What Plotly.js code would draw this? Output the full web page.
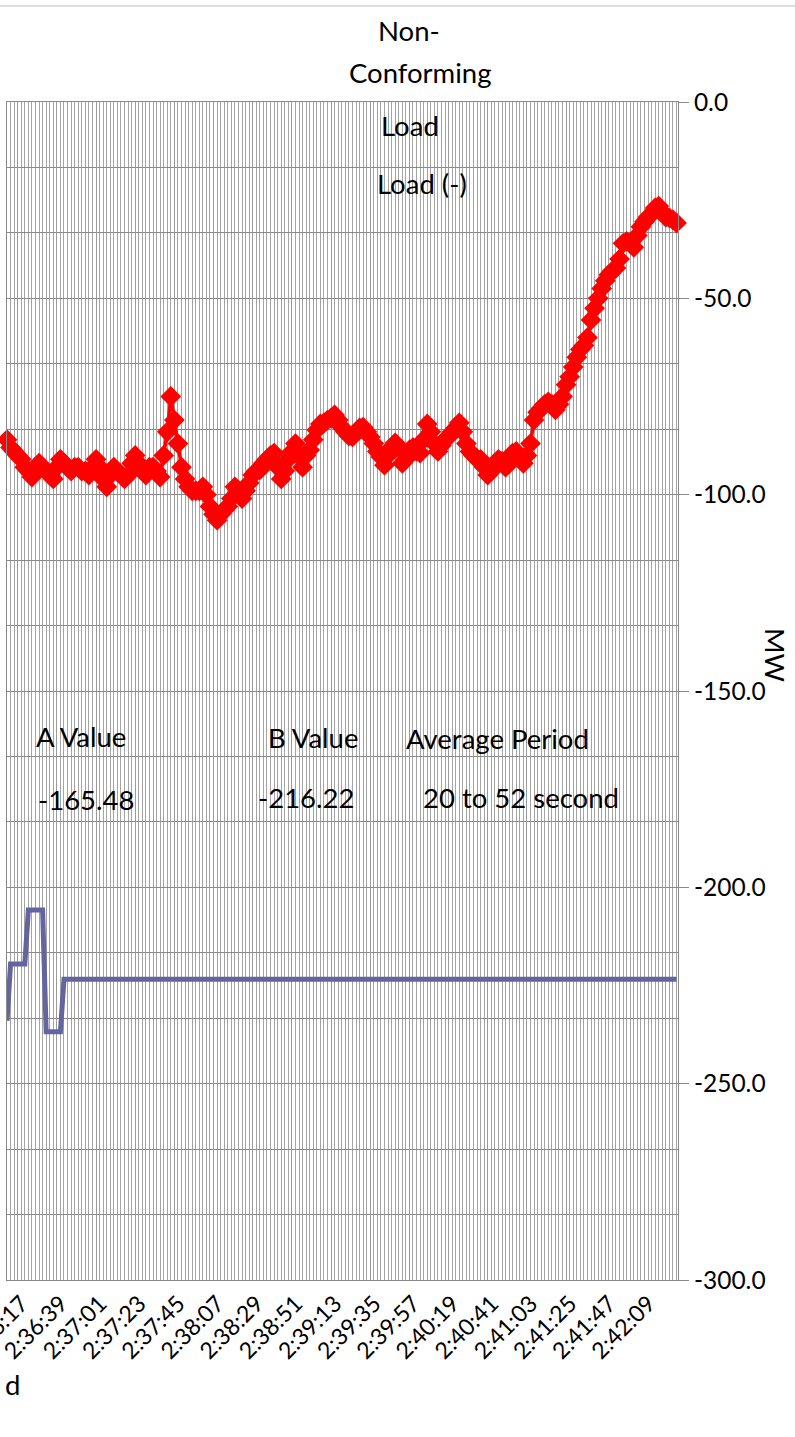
<!DOCTYPE html>
<html>
<head>
<meta charset="utf-8">
<script src="https://cdn.plot.ly/plotly-3.0.1.min.js"></script>
<style>html,body{margin:0;padding:0;background:#fff;}#chart{width:795px;height:1437px;}</style>
</head>
<body>
<div id="chart"></div>
<script>
// Load (-) series, MW, one sample every 2 s starting at 2:36:11
const loadValues = [
 -86,-88,-89,-90,-91,-93,-94,-95.5,-93,-92,
 -93,-94,-95,-96,-93,-91,-92,-93,-94,-93,
 -93,-94,-94,-95,-93,-91,-93,-96,-98,-95,
 -93,-94,-95,-96,-95,-92,-90,-92,-94,-95,
 -93,-93,-94,-95.5,-90,-84,-75,-81,-87,-93,
 -96,-98,-99,-99,-99,-98,-100,-103,-105,-106.5,
 -105,-104,-103,-101,-98,-99,-101,-99,-97,-95,
 -94,-93.7,-92,-91,-90,-89.4,-93,-96,-94,-91,
 -89,-87,-90,-93,-90,-88.6,-86,-83.5,-82,-81.7,
 -81,-80.5,-79.7,-81,-82.8,-84,-85,-85.3,-84,-83,
 -82.8,-84,-85.3,-87,-89,-90.4,-92.5,-90,-88,-86.8,
 -88,-92,-91,-88.6,-88,-89,-89.4,-86,-82,-84,
 -87,-89,-87.5,-86,-85.3,-84,-83,-81.7,-84,-87,
 -89,-90,-91,-91,-93,-95,-94,-92,-91,-91.5,
 -93,-92,-89.4,-89,-91,-92,-90,-87,-81,-79,
 -78,-77,-76.4,-77,-78.4,-77,-75,-72,-70,-67.5,
 -65,-63,-62,-60,-55.5,-52.5,-50,-47.5,-45.5,-44,
 -43,-42.3,-40,-36,-35.5,-36,-37,-34,-31.8,-30.5,
 -29.3,-28.5,-27,-26.5,-28,-29.3,-29.5,-30,-30.8
];
// Second (average) series, MW
const avgValues = [
 -234,-219.5,-219.5,-219.5,-219.5,-219.5,-205.8,-205.8,-205.8,-205.8,
 -205.8,-236.8,-236.8,-236.8,-236.8,-236.8,-223.4,-223.4,-223.4,-223.4,
 -223.4,-223.4,-223.4,-223.4,-223.4,-223.4,-223.4,-223.4,-223.4,-223.4,
 -223.4,-223.4,-223.4,-223.4,-223.4,-223.4,-223.4,-223.4,-223.4,-223.4,
 -223.4,-223.4,-223.4,-223.4,-223.4,-223.4,-223.4,-223.4,-223.4,-223.4,
 -223.4,-223.4,-223.4,-223.4,-223.4,-223.4,-223.4,-223.4,-223.4,-223.4,
 -223.4,-223.4,-223.4,-223.4,-223.4,-223.4,-223.4,-223.4,-223.4,-223.4,
 -223.4,-223.4,-223.4,-223.4,-223.4,-223.4,-223.4,-223.4,-223.4,-223.4,
 -223.4,-223.4,-223.4,-223.4,-223.4,-223.4,-223.4,-223.4,-223.4,-223.4,
 -223.4,-223.4,-223.4,-223.4,-223.4,-223.4,-223.4,-223.4,-223.4,-223.4,
 -223.4,-223.4,-223.4,-223.4,-223.4,-223.4,-223.4,-223.4,-223.4,-223.4,
 -223.4,-223.4,-223.4,-223.4,-223.4,-223.4,-223.4,-223.4,-223.4,-223.4,
 -223.4,-223.4,-223.4,-223.4,-223.4,-223.4,-223.4,-223.4,-223.4,-223.4,
 -223.4,-223.4,-223.4,-223.4,-223.4,-223.4,-223.4,-223.4,-223.4,-223.4,
 -223.4,-223.4,-223.4,-223.4,-223.4,-223.4,-223.4,-223.4,-223.4,-223.4,
 -223.4,-223.4,-223.4,-223.4,-223.4,-223.4,-223.4,-223.4,-223.4,-223.4,
 -223.4,-223.4,-223.4,-223.4,-223.4,-223.4,-223.4,-223.4,-223.4,-223.4,
 -223.4,-223.4,-223.4,-223.4,-223.4,-223.4,-223.4,-223.4,-223.4,-223.4,
 -223.4,-223.4,-223.4,-223.4,-223.4,-223.4,-223.4,-223.4,-223.4
];
// x tick labels (every 11th sample)
const timeTickLabels = ['2:36:17','2:36:39','2:37:01','2:37:23','2:37:45','2:38:07','2:38:29','2:38:51',
 '2:39:13','2:39:35','2:39:57','2:40:19','2:40:41','2:41:03','2:41:25','2:41:47','2:42:09'];
const firstTickIndex = 3, tickEvery = 11;
// y tick labels
const yTickValues = [0,-50,-100,-150,-200,-250,-300];
const yTickLabels = ['0.0','-50.0','-100.0','-150.0','-200.0','-250.0','-300.0'];
// text blocks
const titleLines = ['Non-','Conforming','Load'];
const seriesLabel = 'Load (-)';
const infoLabels = ['A Value','B Value','Average Period'];
const infoValues = ['-165.48','-216.22','20 to 52 second'];

const L=7, R=678, T=102, B=1280, W=795, H=1437;
const px = p => (p-L)/(R-L);
const py = p => (B-p)/(B-T);
const FONT = 'Lato, "Open Sans", sans-serif';
const TXT = 27.5;

const tickvals = timeTickLabels.map((_,k)=>firstTickIndex + tickEvery*k);

const traces = [
 {y: loadValues, type:'scatter', mode:'lines+markers', name: seriesLabel,
  line:{color:'#ff0000', width:3.5}, marker:{symbol:'diamond', size:16, color:'#ff0000'},
  cliponaxis:false, hoverinfo:'skip'},
 {y: avgValues, type:'scatter', mode:'lines', name:'Average',
  line:{color:'#64649f', width:5}, hoverinfo:'skip'}
];

function ann(text, x, y, xanchor, size, extra){
 return Object.assign({text, xref:'paper', yref:'paper', x:px(x), y:py(y), xanchor, yanchor:'middle',
  showarrow:false, font:{family:FONT, size, color:'#000'}}, extra||{});
}
const annotations = [
 ann(titleLines[0], 409, 30, 'center', TXT),
 ann(titleLines[1], 420, 72, 'center', TXT),
 ann(titleLines[2], 410, 126, 'center', TXT),
 ann(seriesLabel, 422, 183, 'center', TXT),
 ann(infoLabels[0], 34, 736, 'left', TXT),
 ann(infoValues[0], 36, 800, 'left', TXT),
 ann(infoLabels[1], 266, 737, 'left', TXT),
 ann(infoValues[1], 256, 797, 'left', TXT),
 ann(infoLabels[2], 404, 738, 'left', TXT),
 ann(infoValues[2], 421, 797, 'left', TXT),
 ann('MW', 776, 655, 'center', TXT, {textangle:90}),
 ann('d', 3, 1385, 'left', TXT)
];

const layout = {
 width:W, height:H, paper_bgcolor:'#fff', plot_bgcolor:'#fff', showlegend:false,
 margin:{l:L, r:W-R, t:T, b:H-B, pad:0},
 font:{family:FONT, color:'#000'},
 xaxis:{range:[0,188.42], tickmode:'array', tickvals, ticktext:timeTickLabels, tickangle:-45,
  ticklabeloverflow:'allow', ticklabelshift:4,
  tickfont:{family:FONT, size:23, color:'#000'}, ticks:'', showgrid:true, gridcolor:'#9a9a9a', gridwidth:1,
  minor:{dtick:1, tick0:0, showgrid:true, gridcolor:'#a4a4a4', gridwidth:1, ticks:''},
  showline:true, linecolor:'#8a8a8a', linewidth:1, mirror:true, zeroline:false, automargin:false, fixedrange:true},
 yaxis:{side:'right', range:[-300,0], tickmode:'array', tickvals:yTickValues, ticktext:yTickLabels,
  tickfont:{family:FONT, size:24.5, color:'#000'}, ticks:'outside', ticklen:10, tickcolor:'#8a8a8a', tickwidth:1,
  showgrid:true, gridcolor:'#8a8a8a', gridwidth:1,
  minor:{dtick:50/3, tick0:0, showgrid:true, gridcolor:'#8a8a8a', gridwidth:1, ticks:''},
  showline:true, linecolor:'#8a8a8a', linewidth:1, mirror:true, zeroline:false, automargin:false, fixedrange:true},
 shapes:[{type:'line', xref:'paper', yref:'paper', x0:px(0), x1:px(W), y0:py(6), y1:py(6),
  line:{color:'#bdbdbd', width:1}}],
 annotations
};
Plotly.newPlot('chart', traces, layout, {staticPlot:true, displayModeBar:false});
</script>
</body>
</html>
